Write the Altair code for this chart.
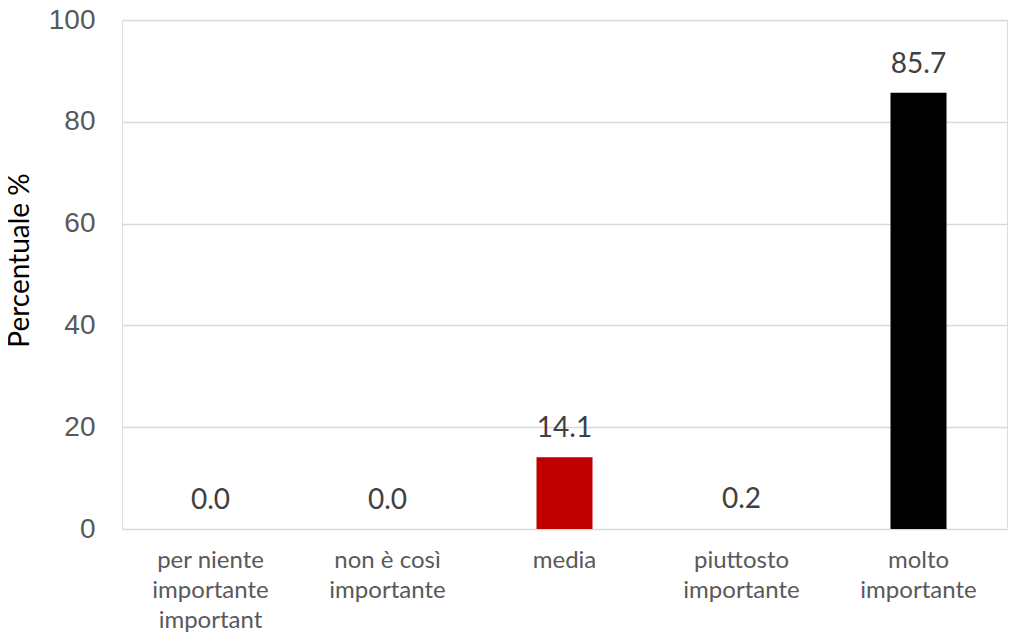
import altair as alt
import pandas as pd

categories = ["per niente\nimportante\nimportant", "non è così\nimportante", "media", "piuttosto\nimportante", "molto\nimportante"]
values = [0.0, 0.0, 14.1, 0.2, 85.7]
labels = ["0.0", "0.0", "14.1", "0.2", "85.7"]
colors = ["#C00000", "#C00000", "#C00000", "transparent", "#000000"]

df = pd.DataFrame({"cat": categories, "val": values, "lab": labels, "col": colors})

W, H = 885, 509

x = alt.X("cat:N", sort=categories, title=None,
          scale=alt.Scale(paddingInner=0, paddingOuter=0),
          axis=alt.Axis(labelAngle=0, labelExpr="split(datum.label, '\\n')",
                        labelFont="Lato", labelFontSize=24, labelColor="#595959",
                        labelLineHeight=30, labelPadding=38, ticks=False, domain=False,
                        labelBaseline="alphabetic"))

bars = alt.Chart(df).mark_bar(size=56).encode(
    x=x,
    y=alt.Y("val:Q", title="Percentuale %",
            scale=alt.Scale(domain=[0, 100], nice=False),
            axis=alt.Axis(values=[0, 20, 40, 60, 80, 100], grid=True, gridColor="#d9d9d9",
                          gridWidth=1.3, ticks=False, domain=False,
                          labelFont="Liberation Sans", labelFontSize=28, labelColor="#595959",
                          labelPadding=27,
                          titleFont="Lato", titleFontSize=28, titleFontWeight="normal",
                          titleColor="#000000", titleAngle=-90, titleX=-102, titleY=240,
                          titleAlign="center", titleBaseline="middle")),
    color=alt.Color("col:N", scale=None),
)

text = alt.Chart(df).mark_text(font="Lato", fontSize=28, color="#404040",
                               baseline="alphabetic", dy=-20).encode(
    x=alt.X("cat:N", sort=categories),
    y=alt.Y("val:Q"),
    text="lab:N",
)

chart = (bars + text).properties(
    width=W, height=H,
    autosize=alt.AutoSizeParams(type="none"),
    padding={"left": 114, "top": 12, "right": 2, "bottom": 104},
).configure_view(stroke=None).configure(background="white")

chart.save("out.html", embed_options={"renderer": "svg", "actions": False})
